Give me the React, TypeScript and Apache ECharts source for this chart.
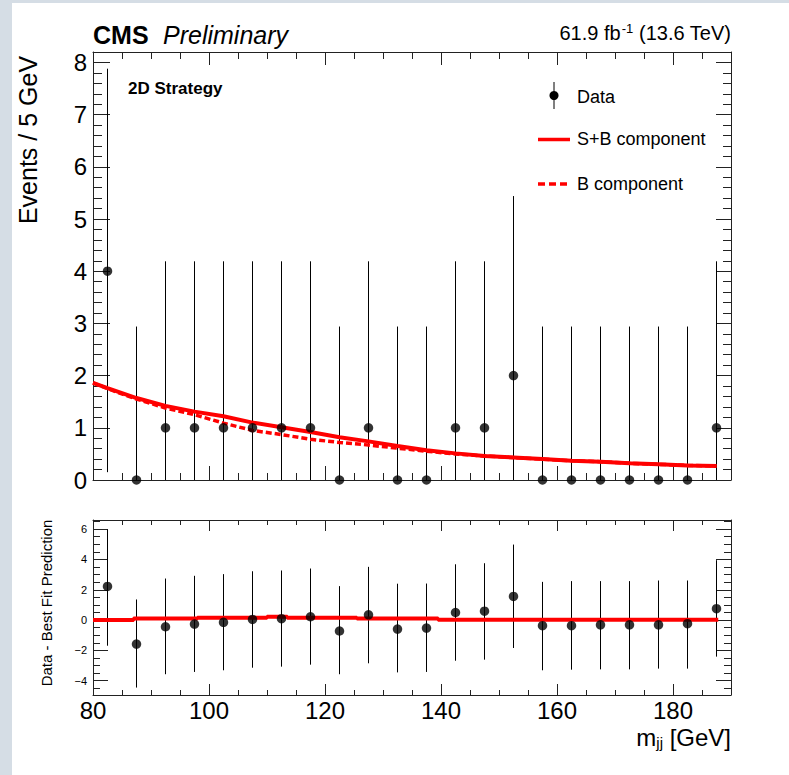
import React, { useEffect, useRef } from "react";
import * as echarts from "echarts";

// ---------- data ----------
const binCenters = [82.5, 87.5, 92.5, 97.5, 102.5, 107.5, 112.5, 117.5, 122.5, 127.5, 132.5, 137.5, 142.5, 147.5, 152.5, 157.5, 162.5, 167.5, 172.5, 177.5, 182.5, 187.5];
const dataCounts = [4, 0, 1, 1, 1, 1, 1, 1, 0, 1, 0, 0, 1, 1, 2, 0, 0, 0, 0, 0, 0, 1];
const dataErrLow = [0.15, 0, 0, 0, 0, 0, 0, 0, 0, 0, 0, 0, 0, 0, 0, 0, 0, 0, 0, 0, 0, 0];
const dataErrHigh = [7.88, 2.94, 4.19, 4.19, 4.19, 4.19, 4.19, 4.19, 2.94, 4.19, 2.94, 2.94, 4.19, 4.19, 5.44, 2.94, 2.94, 2.94, 2.94, 2.94, 2.94, 4.19];

const curveX = [80, 82.5, 87.5, 92.5, 97.5, 102.5, 107.5, 112.5, 117.5, 122.5, 127.5, 132.5, 137.5, 142.5, 147.5, 152.5, 157.5, 162.5, 167.5, 172.5, 177.5, 182.5, 187.5];
const sbCurve = [1.86, 1.76, 1.57, 1.42, 1.31, 1.22, 1.1, 1.01, 0.92, 0.82, 0.74, 0.65, 0.57, 0.51, 0.46, 0.43, 0.4, 0.37, 0.35, 0.32, 0.3, 0.28, 0.27];
const bCurve = [1.86, 1.75, 1.55, 1.38, 1.25, 1.09, 0.95, 0.87, 0.78, 0.72, 0.67, 0.61, 0.55, 0.5, 0.46, 0.43, 0.4, 0.37, 0.35, 0.32, 0.3, 0.28, 0.27];

const residuals = [2.22, -1.58, -0.44, -0.26, -0.15, 0.04, 0.09, 0.22, -0.72, 0.35, -0.59, -0.53, 0.5, 0.59, 1.56, -0.37, -0.37, -0.31, -0.31, -0.31, -0.24, 0.75];
const residualErrHigh = [5.97, 1.36, 2.74, 2.92, 3.03, 3.22, 3.27, 3.4, 2.24, 3.51, 2.4, 2.41, 3.68, 3.75, 4.98, 2.52, 2.57, 2.57, 2.57, 2.61, 2.61, 3.95];
const residualErrLow = [-1.69, -4.45, -3.57, -3.42, -3.31, -3.14, -3.07, -2.94, -3.57, -2.85, -3.45, -3.42, -2.68, -2.61, -1.84, -3.31, -3.27, -3.25, -3.25, -3.2, -3.2, -2.41];

const residualLineX = [80, 87, 98, 110, 113.5, 125.5, 139.5, 187.8];
const residualLineY = [0, 0.1, 0.16, 0.22, 0.16, 0.1, 0.02, 0.02];

const legendLabels = ["Data", "S+B component", "B component"];

// ---------- styles ----------
const FONT = "'Liberation Sans', Arial, Helvetica, sans-serif";
const FRAME = "#222";
const RED = "#ff0000";
const BORDER = "#d5dde5";

const lineStyle = { color: FRAME, width: 1 };

function xAxisDef(grid: number, position: string, showLabel: boolean, major: number, minor: number) {
  return {
    type: "value",
    gridIndex: grid,
    position,
    min: 80,
    max: 190,
    splitNumber: 5,
    minInterval: 20,
    maxInterval: 20,
    axisLine: { show: true, onZero: false, lineStyle },
    axisTick: { show: true, inside: true, length: major, lineStyle },
    minorTick: { show: true, splitNumber: 4, length: minor, lineStyle },
    splitLine: { show: false },
    minorSplitLine: { show: false },
    axisLabel: {
      show: showLabel,
      margin: 3,
      color: "#000",
      fontFamily: FONT,
      fontSize: 24,
      formatter: (v: number) => (Math.abs(v % 20) < 1e-6 && v < 190 ? String(v) : ""),
    },
  };
}

function yAxisDef(grid: number, position: string, showLabel: boolean, min: number, max: number, step: number, minorSplit: number, major: number, minor: number, fontSize: number) {
  return {
    type: "value",
    gridIndex: grid,
    position,
    min,
    max,
    splitNumber: Math.round((max - min) / step),
    minInterval: step,
    maxInterval: step,
    axisLine: { show: true, onZero: false, lineStyle },
    axisTick: { show: true, inside: true, length: major, lineStyle },
    minorTick: { show: true, splitNumber: minorSplit, length: minor, lineStyle },
    splitLine: { show: false },
    minorSplitLine: { show: false },
    axisLabel: {
      show: showLabel,
      margin: 6,
      color: "#000",
      fontFamily: FONT,
      fontSize,
      formatter: (v: number) => {
        const r = Math.round(v);
        if (Math.abs(v - r) > 1e-6 || r % step !== 0) return "";
        return r < 0 ? "\u2212" + String(-r) : String(r);
      },
    },
  };
}

function errorBarRender(params: any, api: any) {
  const x = api.value(0);
  const lo = api.value(2);
  const hi = api.value(3);
  const p1 = api.coord([x, lo]);
  const p2 = api.coord([x, hi]);
  return {
    type: "line",
    shape: { x1: p1[0], y1: p1[1], x2: p2[0], y2: p2[1] },
    style: { stroke: "#000", lineWidth: 1 },
  };
}

export default function App() {
  const ref = useRef<HTMLDivElement>(null);

  useEffect(() => {
    document.body.style.margin = "0";
    if (!ref.current) return;
    const chart = echarts.init(ref.current, null, { renderer: "svg" });

    const topErr = binCenters.map((x, i) => [x, dataCounts[i], dataErrLow[i], dataErrHigh[i]]);
    const botErr = binCenters.map((x, i) => [x, residuals[i], residualErrLow[i], residualErrHigh[i]]);

    const option: any = {
      animation: false,
      backgroundColor: "#ffffff",
      grid: [
        { left: 93, top: 52, width: 638, height: 428, containLabel: false },
        { left: 93, top: 520, width: 638, height: 175, containLabel: false },
      ],
      xAxis: [
        xAxisDef(0, "bottom", false, 14, 7),
        xAxisDef(0, "top", false, 13, 7),
        xAxisDef(1, "bottom", true, 11, 5),
        xAxisDef(1, "top", false, 11, 5),
      ],
      yAxis: [
        yAxisDef(0, "left", true, 0, 8.2, 1, 5, 17, 9, 24),
        yAxisDef(0, "right", false, 0, 8.2, 1, 5, 15, 8, 24),
        yAxisDef(1, "left", true, -4.94, 6.6, 2, 4, 15, 7, 11),
        yAxisDef(1, "right", false, -4.94, 6.6, 2, 4, 15, 7, 11),
      ],
      series: [
        {
          type: "custom",
          xAxisIndex: 0,
          yAxisIndex: 0,
          renderItem: errorBarRender,
          data: topErr,
          encode: { x: 0, y: 1 },
          clip: true,
          z: 1,
        },
        {
          type: "line",
          name: legendLabels[2],
          xAxisIndex: 0,
          yAxisIndex: 0,
          data: curveX.map((x, i) => [x, bCurve[i]]),
          showSymbol: false,
          lineStyle: { color: RED, width: 3.5, type: [6, 3] },
          z: 2,
        },
        {
          type: "line",
          name: legendLabels[1],
          xAxisIndex: 0,
          yAxisIndex: 0,
          data: curveX.map((x, i) => [x, sbCurve[i]]),
          showSymbol: false,
          lineStyle: { color: RED, width: 4 },
          z: 3,
        },
        {
          type: "scatter",
          name: legendLabels[0],
          xAxisIndex: 0,
          yAxisIndex: 0,
          data: binCenters.map((x, i) => [x, dataCounts[i]]),
          symbol: "circle",
          symbolSize: 9.5,
          itemStyle: { color: "#000" },
          clip: false,
          z: 5,
        },
        {
          type: "custom",
          xAxisIndex: 2,
          yAxisIndex: 2,
          renderItem: errorBarRender,
          data: botErr,
          encode: { x: 0, y: 1 },
          clip: true,
          z: 1,
        },
        {
          type: "line",
          xAxisIndex: 2,
          yAxisIndex: 2,
          step: "end",
          data: residualLineX.map((x, i) => [x, residualLineY[i]]),
          showSymbol: false,
          lineStyle: { color: RED, width: 4 },
          z: 3,
        },
        {
          type: "scatter",
          xAxisIndex: 2,
          yAxisIndex: 2,
          data: binCenters.map((x, i) => [x, residuals[i]]),
          symbol: "circle",
          symbolSize: 9.5,
          itemStyle: { color: "#000" },
          z: 5,
        },
      ],
      graphic: [
        { type: "rect", silent: true, shape: { x: 0, y: 0, width: 12, height: 775 }, style: { fill: BORDER } },
        { type: "rect", silent: true, shape: { x: 0, y: 0, width: 789, height: 3 }, style: { fill: BORDER } },
        {
          type: "text", x: 93, y: 35,
          style: { text: "CMS", fontFamily: FONT, fontSize: 25, fontWeight: "bold", fill: "#000", align: "left", verticalAlign: "middle", textAlign: "left", textVerticalAlign: "middle" },
        },
        {
          type: "text", x: 163, y: 35,
          style: { text: "Preliminary", fontFamily: FONT, fontSize: 25, fontStyle: "italic", fill: "#000", align: "left", verticalAlign: "middle", textAlign: "left", textVerticalAlign: "middle" },
        },
        {
          type: "text", x: 731, y: 33,
          style: {
            text: "{a|61.9 fb}{s|-1}{a| (13.6 TeV)}",
            align: "right", verticalAlign: "middle", textAlign: "right", textVerticalAlign: "middle",
            fill: "#000",
            rich: {
              a: { fontFamily: FONT, fontSize: 20, fill: "#000", color: "#000" },
              s: { fontFamily: FONT, fontSize: 13, fill: "#000", color: "#000", verticalAlign: "top", padding: [0, 0, 9, 1] },
            },
          },
        },
        {
          type: "text", x: 128, y: 88,
          style: { text: "2D Strategy", fontFamily: FONT, fontSize: 17, fontWeight: "bold", fill: "#000", align: "left", verticalAlign: "middle", textAlign: "left", textVerticalAlign: "middle" },
        },
        {
          type: "text", x: 28, y: 140, rotation: Math.PI / 2,
          style: { text: "Events / 5 GeV", fontFamily: FONT, fontSize: 25, fill: "#000", align: "center", verticalAlign: "middle", textAlign: "center", textVerticalAlign: "middle" },
        },
        {
          type: "text", x: 46, y: 603, rotation: Math.PI / 2,
          style: { text: "Data - Best Fit Prediction", fontFamily: FONT, fontSize: 15, fill: "#000", align: "center", verticalAlign: "middle", textAlign: "center", textVerticalAlign: "middle" },
        },
        {
          type: "text", x: 731, y: 737,
          style: {
            text: "{a|m}{b|jj}{a| [GeV]}",
            align: "right", verticalAlign: "middle", textAlign: "right", textVerticalAlign: "middle",
            fill: "#000",
            rich: {
              a: { fontFamily: FONT, fontSize: 24, fill: "#000", color: "#000" },
              b: { fontFamily: FONT, fontSize: 15, fill: "#000", color: "#000", verticalAlign: "bottom", padding: [10, 0, 0, 0] },
            },
          },
        },
        // legend
        { type: "line", shape: { x1: 554, y1: 82, x2: 554, y2: 109 }, style: { stroke: "#000", lineWidth: 1 } },
        { type: "circle", shape: { cx: 554, cy: 95.5, r: 4.5 }, style: { fill: "#000" } },
        {
          type: "text", x: 577, y: 97,
          style: { text: legendLabels[0], fontFamily: FONT, fontSize: 18, fill: "#000", align: "left", verticalAlign: "middle", textAlign: "left", textVerticalAlign: "middle" },
        },
        { type: "line", shape: { x1: 538, y1: 139.5, x2: 570, y2: 139.5 }, style: { stroke: RED, lineWidth: 3.5 } },
        {
          type: "text", x: 577, y: 139,
          style: { text: legendLabels[1], fontFamily: FONT, fontSize: 18, fill: "#000", align: "left", verticalAlign: "middle", textAlign: "left", textVerticalAlign: "middle" },
        },
        { type: "line", shape: { x1: 538, y1: 184, x2: 570, y2: 184 }, style: { stroke: RED, lineWidth: 3.5, lineDash: [7, 4] } },
        {
          type: "text", x: 577, y: 184,
          style: { text: legendLabels[2], fontFamily: FONT, fontSize: 18, fill: "#000", align: "left", verticalAlign: "middle", textAlign: "left", textVerticalAlign: "middle" },
        },
      ],
    };

    chart.setOption(option);
    return () => chart.dispose();
  }, []);

  return <div ref={ref} style={{ width: 789, height: 775, background: "#ffffff" }} />;
}
